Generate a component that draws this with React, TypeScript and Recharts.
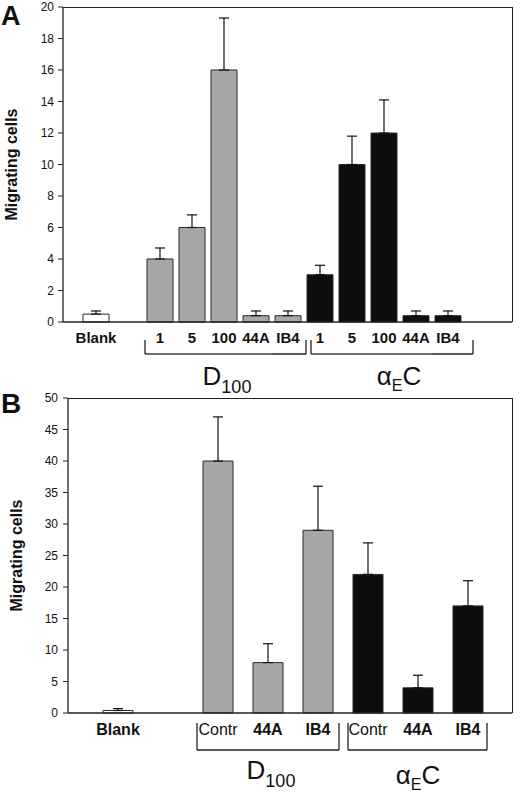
import React from 'react';
import { BarChart, Bar, XAxis, YAxis, ErrorBar, Cell } from 'recharts';

const FONT = '"Liberation Sans", Arial, Helvetica, sans-serif';

// Panel A: dose response
const aLabels = ['Blank', '', '1', '5', '100', '44A', 'IB4', '1', '5', '100', '44A', 'IB4'];
const aGroups = ['blank', 'gap', 'D100', 'D100', 'D100', 'D100', 'D100', 'aEC', 'aEC', 'aEC', 'aEC', 'aEC'];
const aValues = [0.5, null, 4, 6, 16, 0.4, 0.4, 3, 10, 12, 0.4, 0.4];
const aErrors = [0.2, null, 0.7, 0.8, 3.3, 0.3, 0.3, 0.6, 1.8, 2.1, 0.3, 0.3];
const aTicks = [0, 2, 4, 6, 8, 10, 12, 14, 16, 18, 20];

// Panel B: antibody blocking
const bLabels = ['Blank', '', 'Contr', '44A', 'IB4', 'Contr', '44A', 'IB4'];
const bGroups = ['blank', 'gap', 'D100', 'D100', 'D100', 'aEC', 'aEC', 'aEC'];
const bValues = [0.4, null, 40, 8, 29, 22, 4, 17];
const bErrors = [0.3, null, 7, 3, 7, 5, 2, 4];
const bTicks = [0, 5, 10, 15, 20, 25, 30, 35, 40, 45, 50];

const regularLabels = ['Contr'];

const fills: Record<string, string> = {
  blank: '#ffffff',
  D100: '#a7a7a7',
  aEC: '#0d0d0d',
};

const CHART_W = 520;

function buildRows(labels: string[], groups: string[], values: (number | null)[], errors: (number | null)[]) {
  return labels.map((label, i) => ({
    key: 'c' + i,
    label,
    group: groups[i],
    value: values[i],
    err: errors[i] == null ? undefined : [0, errors[i]],
  }));
}

function groupLabel(name: string, x: number, y: number) {
  if (name === 'D100') {
    return (
      <text x={x} y={y} textAnchor="middle" fontSize={26} fontFamily={FONT} fill="#111">
        D<tspan fontSize={18} dy={8}>100</tspan>
      </text>
    );
  }
  return (
    <text x={x} y={y} textAnchor="middle" fontSize={26} fontFamily={FONT} fill="#111">
      α<tspan fontSize={16} dy={6}>E</tspan><tspan dy={-6}>C</tspan>
    </text>
  );
}

function makeTick(cfg: any, rows: any[]) {
  return (props: any) => {
    const { x, y, payload } = props;
    const i = payload && payload.index != null ? payload.index : props.index;
    const row = rows[i];
    if (!row) return <g />;
    const off = payload && payload.offset ? payload.offset : cfg.band / 2;
    const els: React.ReactNode[] = [];
    if (row.label) {
      els.push(
        <text key="t" x={x} y={y + cfg.tickDy} textAnchor="middle" fontSize={cfg.tickFont}
          fontWeight={regularLabels.includes(row.label) ? 'normal' : 'bold'} fontFamily={FONT} fill="#111">
          {row.label}
        </text>
      );
    }
    const g = cfg.groups[row.group];
    if (g) {
      const idx = rows.map((r, k) => (r.group === row.group ? k : -1)).filter((k) => k >= 0);
      const first = idx[0];
      const last = idx[idx.length - 1];
      const left = i === first ? x - off + g.insetL : x - off;
      const right = i === last ? x + off + g.outR : x + off;
      const yb = y + cfg.bracketBottom;
      const yt = y + cfg.bracketTop;
      els.push(<line key="h" x1={left} x2={right} y1={yb} y2={yb} stroke="#222" strokeWidth={1.3} />);
      if (i === first) els.push(<line key="vl" x1={left} x2={left} y1={yt} y2={yb} stroke="#222" strokeWidth={1.3} />);
      if (i === last) els.push(<line key="vr" x1={right} x2={right} y1={yt} y2={yb} stroke="#222" strokeWidth={1.3} />);
      if (i === Math.floor((first + last) / 2)) {
        els.push(
          <g key="gl">{groupLabel(row.group, x + (g.insetL + g.outR) / 2 + g.shift, y + cfg.groupDy + g.dy)}</g>
        );
      }
    }
    return <g>{els}</g>;
  };
}

function makeYLabel(cfg: any) {
  return (props: any) => {
    const vb = props.viewBox || {};
    const cy = vb.height ? vb.y + vb.height / 2 : cfg.labelY;
    return (
      <text x={cfg.labelX} y={cy} transform={`rotate(-90, ${cfg.labelX}, ${cy})`} textAnchor="middle"
        fontSize={16} fontWeight="bold" fontFamily={FONT} fill="#111">
        Migrating cells
      </text>
    );
  };
}

function Panel({ cfg, rows, ticks }: any) {
  const max = ticks[ticks.length - 1];
  // plot area box, derived from the chart margins and axis sizes
  const plotLeft = cfg.margin.left + cfg.yAxisWidth;
  const plotW = CHART_W - plotLeft - cfg.margin.right;
  const plotH = cfg.height - cfg.margin.top - cfg.margin.bottom - cfg.xAxisHeight;
  return (
    <div style={{ position: 'absolute', left: 0, top: cfg.top, width: CHART_W, height: cfg.height }}>
      <BarChart width={CHART_W} height={cfg.height} data={rows} margin={cfg.margin} barSize={cfg.barSize}>
        <XAxis dataKey="key" interval={0} height={cfg.xAxisHeight} padding={cfg.padding}
          axisLine={{ stroke: '#222', strokeWidth: 1.3 }} tickLine={false} tickSize={0} tickMargin={0}
          tick={makeTick(cfg, rows)} />
        <YAxis domain={[0, max]} ticks={ticks} width={cfg.yAxisWidth} interval={0}
          axisLine={{ stroke: '#222', strokeWidth: 1.3 }} tickLine={{ stroke: '#222' }}
          tickSize={cfg.tickSize} tickMargin={cfg.tickMargin}
          tick={{ fontSize: 12, fill: '#111', fontFamily: FONT }}
          label={{ content: makeYLabel(cfg) }} />
        <Bar dataKey="value" stroke="#2a2a2a" strokeWidth={1} isAnimationActive={false}>
          {rows.map((r: any) => (
            <Cell key={r.key} fill={fills[r.group] || '#fff'} />
          ))}
          <ErrorBar dataKey="err" direction="y" width={5} stroke="#111" strokeWidth={1.2} isAnimationActive={false} />
        </Bar>
      </BarChart>
      {/* top and right edges of the plot frame */}
      <div style={{
        position: 'absolute', left: plotLeft, top: cfg.margin.top - 0.5, width: plotW + 0.5, height: plotH + 0.5,
        borderTop: '1px solid #222', borderRight: '1px solid #222', boxSizing: 'border-box', pointerEvents: 'none',
      }} />
    </div>
  );
}

const aRows = buildRows(aLabels, aGroups, aValues, aErrors);
const bRows = buildRows(bLabels, bGroups, bValues, bErrors);

const aCfg = {
  top: 0, height: 398, margin: { top: 7, right: 8, left: 0, bottom: 0 },
  yAxisWidth: 63, xAxisHeight: 76, padding: { left: 17, right: 48 }, barSize: 26, band: 32,
  tickFont: 15, tickSize: 5, tickMargin: 4, labelX: 17, labelY: 164,
  tickDy: 21, bracketTop: 18, bracketBottom: 32, groupDy: 63,
  groups: {
    D100: { insetL: 1, outR: 2, shift: 1.5, dy: 0 },
    aEC: { insetL: 7, outR: 9, shift: 7, dy: 0 },
  },
};

const bCfg = {
  top: 380, height: 415, margin: { top: 18, right: 8, left: 0, bottom: 0 },
  yAxisWidth: 68, xAxisHeight: 82, padding: { left: 25, right: 19 }, barSize: 30, band: 50,
  tickFont: 16, tickSize: 5, tickMargin: 5, labelX: 22, labelY: 175,
  tickDy: 22, bracketTop: 10, bracketBottom: 37, groupDy: 66,
  groups: {
    D100: { insetL: 4, outR: -4, shift: 3, dy: 0 },
    aEC: { insetL: 5, outR: -6, shift: 0.5, dy: 5 },
  },
};

export default function App() {
  return (
    <div style={{ position: 'absolute', left: 0, top: 0, width: CHART_W, height: 795, background: '#fff' }}>
      <Panel cfg={aCfg} rows={aRows} ticks={aTicks} />
      <Panel cfg={bCfg} rows={bRows} ticks={bTicks} />
      <svg width={40} height={40} style={{ position: 'absolute', left: 0, top: 0 }}>
        <text x={1} y={25} fontSize={27} fontWeight="bold" fontFamily={FONT} fill="#111">A</text>
      </svg>
      <svg width={40} height={40} style={{ position: 'absolute', left: 0, top: 380 }}>
        <text x={1} y={33} fontSize={28} fontWeight="bold" fontFamily={FONT} fill="#111">B</text>
      </svg>
    </div>
  );
}
